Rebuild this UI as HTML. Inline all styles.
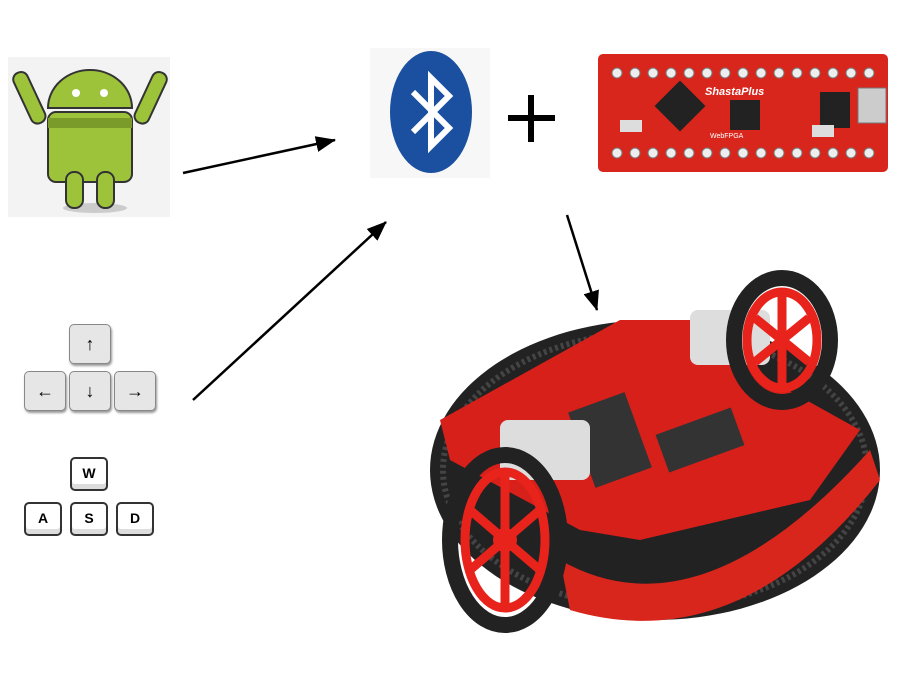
<!DOCTYPE html>
<html><head><meta charset="utf-8"><style>
html,body{margin:0;padding:0;background:#fff;width:900px;height:675px;overflow:hidden;font-family:"Liberation Sans",sans-serif}
.key{position:absolute;width:40px;height:38px;background:#e6e6e6;border:1px solid #888;border-radius:5px;box-shadow:1px 2px 2px #999;text-align:center;line-height:38px;font-weight:bold;font-size:18px}
.k2{position:absolute;width:34px;height:30px;background:#fff;border:2px solid #333;border-radius:5px;text-align:center;line-height:28px;font-weight:bold;font-size:14px;box-shadow:inset 0 -5px 0 #ddd}
</style></head><body>
<svg width="900" height="675" style="position:absolute;left:0;top:0">
<defs><marker id="a" markerWidth="10" markerHeight="10" refX="9" refY="5" orient="auto" markerUnits="userSpaceOnUse" viewBox="0 0 10 10"><path d="M0,0L10,5L0,10z" fill="#000"/></marker>
<marker id="b" markerWidth="20" markerHeight="16" refX="19" refY="8" orient="auto" markerUnits="userSpaceOnUse" viewBox="0 0 20 16"><path d="M0,0L20,8L0,16z" fill="#000"/></marker></defs>
<!-- android -->
<rect x="8" y="57" width="162" height="160" fill="#f3f3f3"/>
<ellipse cx="95" cy="208" rx="32" ry="5" fill="#ccc"/>
<path d="M48,108 a42,38 0 0 1 84,0z" fill="#9dc33b" stroke="#333" stroke-width="2"/>
<rect x="48" y="112" width="84" height="70" rx="8" fill="#9dc33b" stroke="#333" stroke-width="2"/>
<rect x="48" y="118" width="84" height="10" fill="#7a9a2a"/>
<rect x="22" y="70" width="15" height="55" rx="7" transform="rotate(-25 30 98)" fill="#9dc33b" stroke="#333" stroke-width="2"/>
<rect x="143" y="70" width="15" height="55" rx="7" transform="rotate(25 150 98)" fill="#9dc33b" stroke="#333" stroke-width="2"/>
<rect x="66" y="172" width="17" height="36" rx="8" fill="#9dc33b" stroke="#333" stroke-width="2"/>
<rect x="97" y="172" width="17" height="36" rx="8" fill="#9dc33b" stroke="#333" stroke-width="2"/>
<circle cx="76" cy="93" r="4" fill="#fff"/><circle cx="104" cy="93" r="4" fill="#fff"/>
<!-- bluetooth -->
<rect x="370" y="48" width="120" height="130" fill="#f7f7f7"/>
<ellipse cx="431" cy="112" rx="41" ry="61" fill="#1b4f9f"/>
<path d="M413,92 L449,128 L431,146 L431,78 L449,96 L413,132" fill="none" stroke="#fff" stroke-width="6" stroke-linejoin="miter"/>
<!-- plus -->
<rect x="508" y="115" width="47" height="6" fill="#000"/><rect x="528" y="95" width="6" height="47" fill="#000"/>
<!-- fpga -->
<rect x="598" y="54" width="290" height="118" rx="5" fill="#d9261c"/>
<g fill="#eee" stroke="#777" stroke-width="1">
<circle cx="617" cy="73" r="5"/><circle cx="635" cy="73" r="5"/><circle cx="653" cy="73" r="5"/><circle cx="671" cy="73" r="5"/><circle cx="689" cy="73" r="5"/><circle cx="707" cy="73" r="5"/><circle cx="725" cy="73" r="5"/><circle cx="743" cy="73" r="5"/><circle cx="761" cy="73" r="5"/><circle cx="779" cy="73" r="5"/><circle cx="797" cy="73" r="5"/><circle cx="815" cy="73" r="5"/><circle cx="833" cy="73" r="5"/><circle cx="851" cy="73" r="5"/><circle cx="869" cy="73" r="5"/>
<circle cx="617" cy="153" r="5"/><circle cx="635" cy="153" r="5"/><circle cx="653" cy="153" r="5"/><circle cx="671" cy="153" r="5"/><circle cx="689" cy="153" r="5"/><circle cx="707" cy="153" r="5"/><circle cx="725" cy="153" r="5"/><circle cx="743" cy="153" r="5"/><circle cx="761" cy="153" r="5"/><circle cx="779" cy="153" r="5"/><circle cx="797" cy="153" r="5"/><circle cx="815" cy="153" r="5"/><circle cx="833" cy="153" r="5"/><circle cx="851" cy="153" r="5"/><circle cx="869" cy="153" r="5"/>
</g>
<rect x="662" y="88" width="36" height="36" transform="rotate(45 680 106)" fill="#222"/>
<rect x="730" y="100" width="30" height="30" fill="#222"/>
<rect x="820" y="92" width="30" height="36" fill="#222"/>
<rect x="858" y="88" width="28" height="35" fill="#ccc" stroke="#777"/>
<rect x="620" y="120" width="22" height="12" fill="#ddd"/><rect x="812" y="125" width="22" height="12" fill="#ddd"/>
<text x="705" y="95" font-size="11" font-style="italic" font-weight="bold" fill="#fff" font-family="Liberation Sans">ShastaPlus</text>
<text x="710" y="138" font-size="7" fill="#fff" font-family="Liberation Sans">WebFPGA</text>
<!-- arrows -->
<line x1="183" y1="173" x2="335" y2="140" stroke="#000" stroke-width="2.5" marker-end="url(#b)"/>
<line x1="193" y1="400" x2="386" y2="222" stroke="#000" stroke-width="2.5" marker-end="url(#b)"/>
<line x1="567" y1="215" x2="597" y2="310" stroke="#000" stroke-width="2.5" marker-end="url(#b)"/>
<!-- robot -->
<ellipse cx="655" cy="470" rx="225" ry="150" fill="#222"/>
<ellipse cx="655" cy="470" rx="212" ry="138" fill="none" stroke="#444" stroke-width="6" stroke-dasharray="3 3"/>
<path d="M560,560 Q700,640 870,450 L880,480 Q740,660 570,610z" fill="#d9261c"/>
<path d="M440,420 L620,320 L700,320 L770,380 L860,430 L810,500 L640,540 L580,530 L450,460z" fill="#d7201a"/>
<rect x="580" y="400" width="60" height="80" fill="#333" transform="rotate(-20 610 440)"/>
<rect x="660" y="420" width="80" height="40" fill="#333" transform="rotate(-20 700 440)"/>
<rect x="690" y="310" width="80" height="55" rx="8" fill="#ddd"/>
<rect x="500" y="420" width="90" height="60" rx="8" fill="#ddd"/>
<g fill="none" stroke="#222" stroke-width="16">
<ellipse cx="505" cy="540" rx="55" ry="85"/>
<ellipse cx="782" cy="340" rx="48" ry="62"/>
</g>
<g fill="none" stroke="#e8231c" stroke-width="9">
<ellipse cx="505" cy="540" rx="40" ry="68"/>
<ellipse cx="782" cy="340" rx="35" ry="48"/>
<path d="M505,472V608M470,510L540,570M470,570L540,510"/>
<path d="M782,292V388M755,318L809,362M755,362L809,318"/>
</g>
<circle cx="505" cy="540" r="12" fill="#e8231c"/>
</svg>
<div class="key" style="left:69px;top:324px">↑</div>
<div class="key" style="left:24px;top:371px">←</div>
<div class="key" style="left:69px;top:371px">↓</div>
<div class="key" style="left:114px;top:371px">→</div>
<div class="k2" style="left:70px;top:457px">W</div>
<div class="k2" style="left:24px;top:502px">A</div>
<div class="k2" style="left:70px;top:502px">S</div>
<div class="k2" style="left:116px;top:502px">D</div>
</body></html>
